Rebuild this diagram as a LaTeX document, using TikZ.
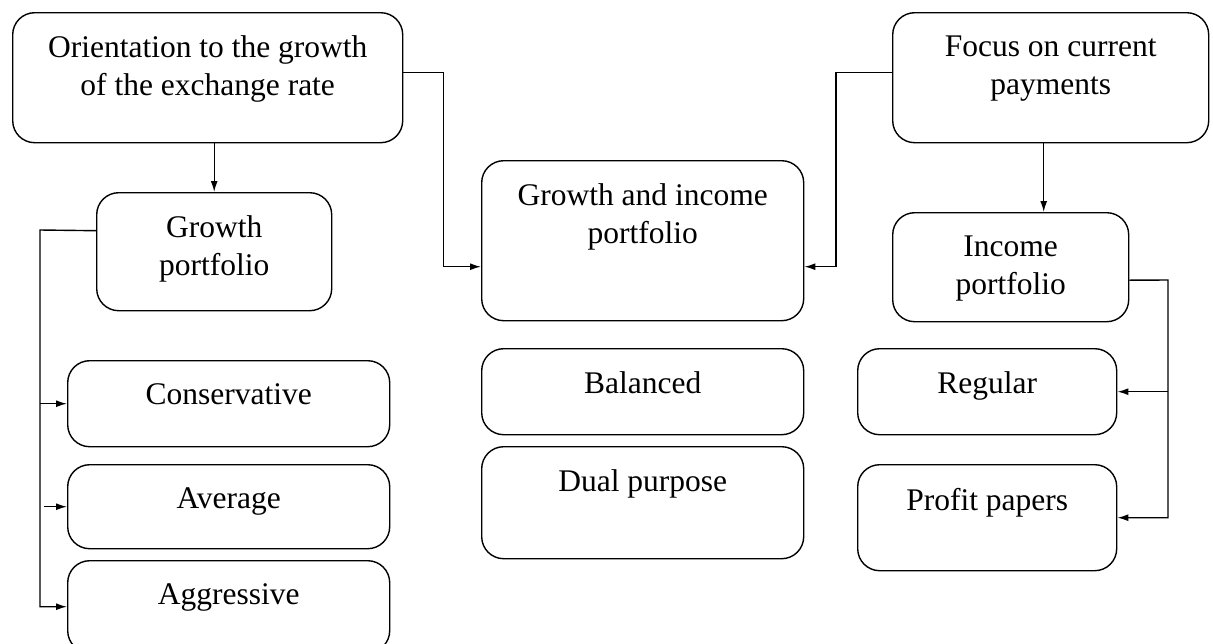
\documentclass[tikz,border=0pt]{standalone}
\usepackage{fontspec}
\setmainfont{Liberation Serif}
\usetikzlibrary{arrows.meta}
\begin{document}
\begin{tikzpicture}[x=1pt,y=-1pt,
line width=1.4pt, >={Latex[length=11pt,width=7pt]},
% common options for boxes:
box/.style = {draw, rounded corners=22pt, anchor=north west, inner sep=0},
% common options for the texts in the boxes:
lbl/.style = {anchor=north, align=center, yshift=-20pt,
            font=\fontsize{31.5}{38}\selectfont}]
\useasboundingbox (0,0) rectangle (1213,643);
\node[box, minimum width=390pt, minimum height=130pt,
  label={[lbl]north:Orientation to the growth\\of the exchange rate}] (orient) at (12,12) {};
\node[box, minimum width=316pt, minimum height=130pt,
  label={[lbl]north:Focus on current\\payments}] (focus) at (892,12) {};
\node[box, minimum width=235pt, minimum height=118pt,
  label={[lbl]north:Growth\\portfolio}] (growth) at (96,192) {};
\node[box, minimum width=322pt, minimum height=160pt,
  label={[lbl]north:Growth and income\\portfolio}] (gi) at (481,160) {};
\node[box, minimum width=236pt, minimum height=109pt,
  label={[lbl]north:Income\\portfolio}] (income) at (892,212) {};
\node[box, minimum width=322pt, minimum height=86pt,
  label={[lbl]north:Conservative}] (cons) at (67,360) {};
\node[box, minimum width=322pt, minimum height=84pt,
  label={[lbl]north:Average}] (avg) at (67,464) {};
\node[box, minimum width=322pt, minimum height=92pt,
  label={[lbl]north:Aggressive}] (aggr) at (67,560) {};
\node[box, minimum width=322pt, minimum height=86pt,
  label={[lbl]north:Balanced}] (bal) at (481,348) {};
\node[box, minimum width=322pt, minimum height=112pt,
  label={[lbl]north:Dual purpose}] (dual) at (481,446) {};
\node[box, minimum width=259pt, minimum height=86pt,
  label={[lbl]north:Regular}] (reg) at (857,348) {};
\node[box, minimum width=259pt, minimum height=106pt,
  label={[lbl]north:Profit papers}] (profit) at (857,464) {};
\coordinate (gbus) at (40,230);
\coordinate (ibus) at (1168,280);
\draw[->] (orient.south -| growth.north) to (growth.north);
\draw[->] ([xshift=-7pt]focus.south) to ([xshift=-7pt]focus.south |- income.north);
\draw[->] ([yshift=5pt]orient.east) -- ++(40,0) |- ([yshift=-26pt]gi.west);
\draw[->] ([yshift=5pt]focus.west) -- ++(-56,0) |- ([yshift=-26pt]gi.east);
\draw[->] ([yshift=21pt]growth.west) -- (gbus) |- (aggr.west);
\draw[->] (gbus |- cons.west) to (cons.west);
\draw[->] ([xshift=4pt]gbus |- avg.west) to (avg.west);
\draw[->] ([yshift=-13pt]income.east) -- (ibus) |- (profit.east);
\draw[->] (ibus |- reg.east) to (reg.east);
\end{tikzpicture}
\end{document}
